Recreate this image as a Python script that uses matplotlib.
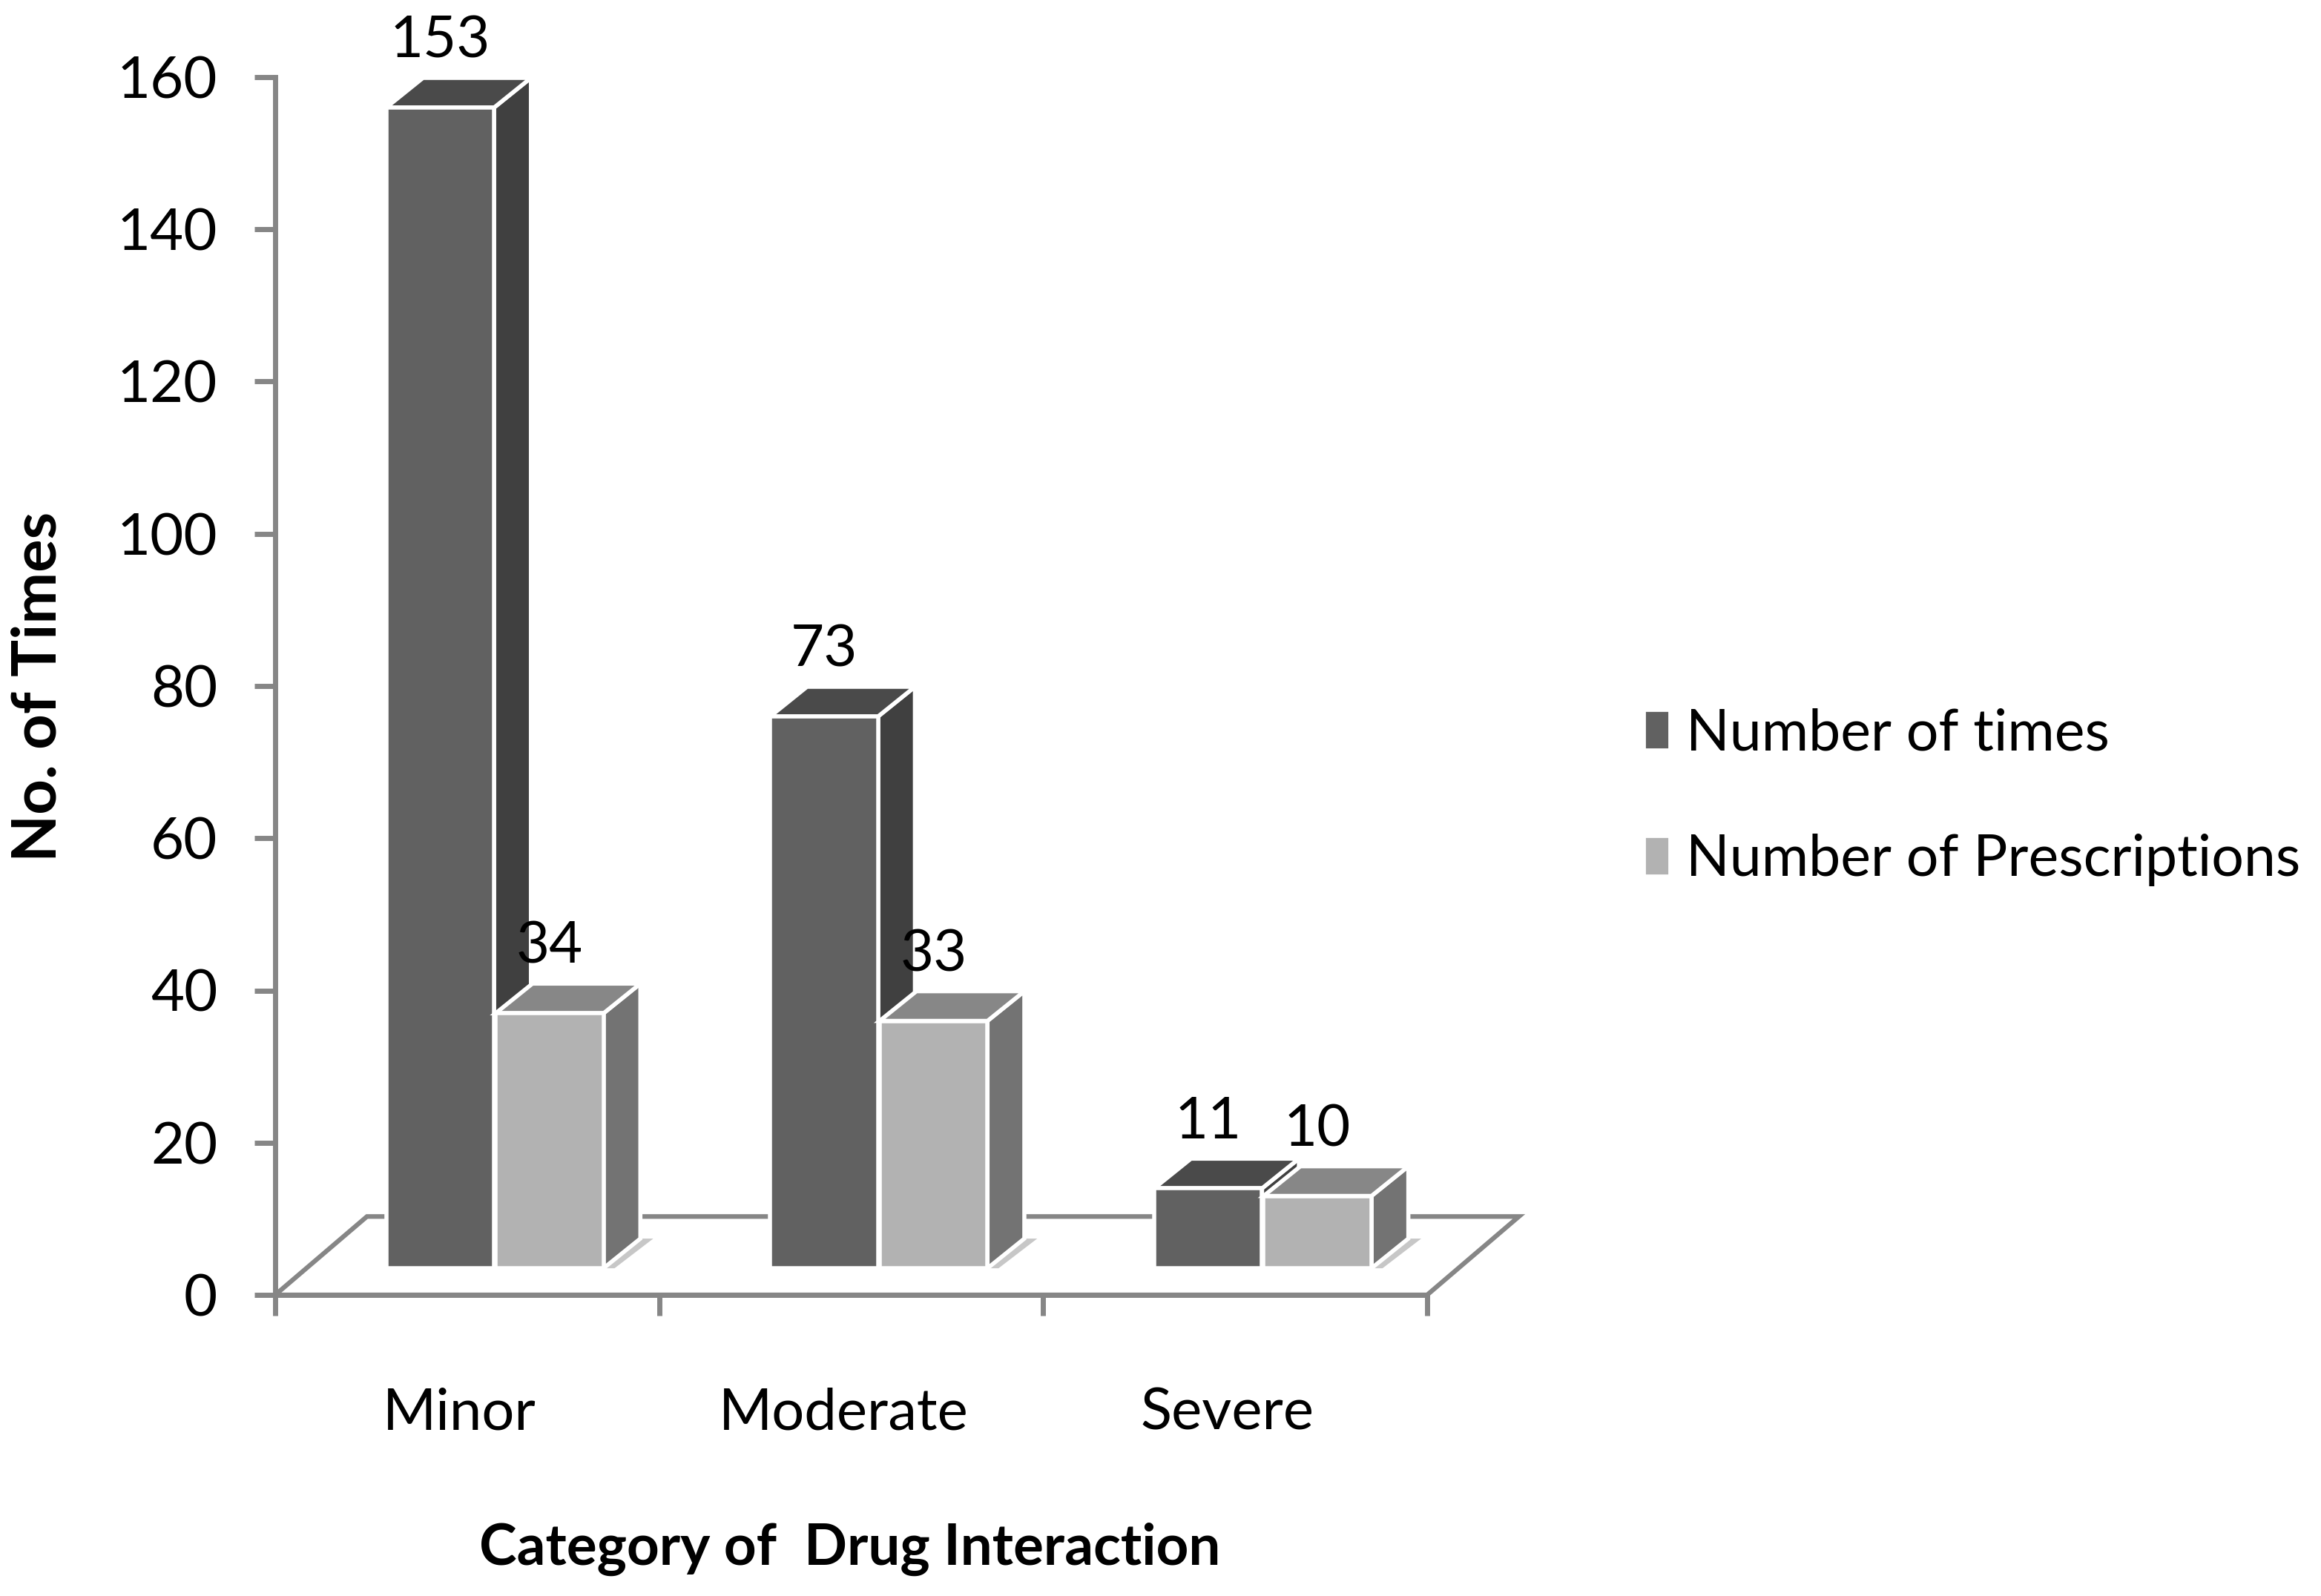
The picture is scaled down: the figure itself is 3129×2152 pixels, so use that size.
import matplotlib
matplotlib.use("Agg")
import matplotlib.pyplot as plt
from matplotlib.patches import Polygon, Patch

categories = ["Minor", "Moderate", "Severe"]
number_of_times = [153, 73, 11]
number_of_prescriptions = [34, 33, 10]
series_names = ["Number of times", "Number of Prescriptions"]
y_ticks = [0, 20, 40, 60, 80, 100, 120, 140, 160]

FONT = ["Lato", "Open Sans", "DejaVu Sans"]
W, H = 3129, 2152
GREY = "#868686"
front = ["#616161", "#b2b2b2"]
top = ["#4a4a4a", "#878787"]
side = ["#404040", "#737373"]

plt.rcParams["font.family"] = FONT
fig = plt.figure(figsize=(W / 100, H / 100), dpi=100, facecolor="white")
ax = fig.add_axes([371 / W, 1 - 1746 / H, (1924 - 371) / W, (1746 - 104) / H])
ax.set_xlim(0, 3)
ax.set_ylim(0, 160)
for s in ("top", "right"):
    ax.spines[s].set_visible(False)
for s in ("left", "bottom"):
    ax.spines[s].set_color(GREY)
    ax.spines[s].set_linewidth(5)
    ax.spines[s].set_zorder(1)

# floor of the 3D scene
fdx, fdy = 0.239, 10.3
ax.add_patch(Polygon([(0, 0), (fdx, fdy), (3 + fdx, fdy), (3, 0)], closed=True,
                     facecolor="white", edgecolor=GREY, linewidth=4.5,
                     clip_on=False, zorder=0.5))

bar_w = 0.281
left0 = 0.289
ddx, ddy = 0.096, 3.9
base = 3.5
lift = 3.0


def box(x, v, j):
    y = v + lift
    # soft shadow on the floor
    ax.add_patch(Polygon([(x + bar_w, base), (x + bar_w + ddx, base + ddy),
                          (x + bar_w + ddx * 1.35, base + ddy), (x + bar_w + ddx * 0.3, base)],
                         closed=True, facecolor="#9a9a9a", edgecolor="none", alpha=0.55,
                         clip_on=False, zorder=1.5))
    kw = dict(closed=True, edgecolor="white", linewidth=4, clip_on=False, joinstyle="miter")
    ax.add_patch(Polygon([(x + bar_w, base), (x + bar_w + ddx, base + ddy),
                          (x + bar_w + ddx, y + ddy), (x + bar_w, y)],
                         facecolor=side[j], zorder=2 + j, **kw))
    ax.add_patch(Polygon([(x, y), (x + ddx, y + ddy), (x + bar_w + ddx, y + ddy), (x + bar_w, y)],
                         facecolor=top[j], zorder=2 + j, **kw))
    ax.add_patch(Polygon([(x, base), (x, y), (x + bar_w, y), (x + bar_w, base)],
                         facecolor=front[j], zorder=2.5 + j, **kw))
    ax.annotate(str(v), (x + bar_w / 2, y), xytext=(0, 64), textcoords="offset points",
                ha="center", va="center", fontsize=56, color="black", zorder=6,
                annotation_clip=False)


for i in range(len(categories)):
    x = i + left0
    box(x, number_of_times[i], 0)
    box(x + bar_w + 0.004, number_of_prescriptions[i], 1)

ax.set_yticks(y_ticks)
ax.set_xticks([0, 1, 2, 3])
ax.set_xticklabels([])
ax.set_xticks([i + 0.48 for i in range(3)], minor=True)
ax.set_xticklabels(categories, minor=True)
ax.tick_params(axis="y", length=20, width=5, color=GREY, labelsize=56, pad=36, labelcolor="black")
ax.tick_params(axis="x", which="major", length=20, width=5, color=GREY)
ax.tick_params(axis="x", which="minor", length=0, labelsize=56, pad=90, labelcolor="black")

fig.text(52 / W, 1 - 464 * 1.9955 / H, "No. of Times", rotation=90, ha="center", va="center",
         fontsize=60, fontweight="bold", color="black")
fig.text(574 * 1.9955 / W, 1 - 1047 * 1.9955 / H, "Category of  Drug Interaction", ha="center", va="center",
         fontsize=55, fontweight="bold", color="black")

handles = [Patch(facecolor=front[0], edgecolor="white", linewidth=2),
           Patch(facecolor=front[1], edgecolor="white", linewidth=2)]
fig.legend(handles, series_names, loc="upper left", bbox_to_anchor=(2217 / W, 1 - 954 / H),
           bbox_transform=fig.transFigure, frameon=False, fontsize=55.5, borderpad=0, borderaxespad=0,
           handlelength=0.43, handleheight=0.66, handletextpad=0.3, labelspacing=1.28)

fig.savefig("out.png", dpi=100, facecolor="white")
